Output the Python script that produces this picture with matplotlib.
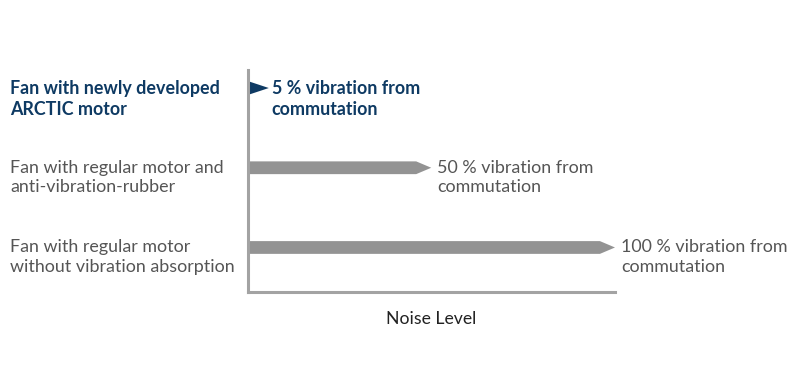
import matplotlib
matplotlib.use("Agg")
import matplotlib.pyplot as plt

plt.rcParams['font.family'] = ['Lato', 'DejaVu Sans']

categories = [
    "Fan with newly developed\nARCTIC motor",
    "Fan with regular motor and\nanti-vibration-rubber",
    "Fan with regular motor\nwithout vibration absorption",
]
values = [5, 50, 100]
value_labels = [
    "5 % vibration from\ncommutation",
    "50 % vibration from\ncommutation",
    "100 % vibration from\ncommutation",
]
highlight = [True, False, False]

navy = "#0e3a63"
bar_gray = "#939393"
text_gray = "#555555"
axis_gray = "#a3a3a3"

fig = plt.figure(figsize=(8, 3.77), dpi=100)
ax = fig.add_axes([247.5 / 800, 1 - 291.5 / 377, (615 - 247.5) / 800, (291.5 - 70) / 377])

ax.set_xlim(0, 100)
ax.set_ylim(2.552, -0.226)

bar_h = 0.16
fs = 12.9
for i, v in enumerate(values):
    col = navy if highlight[i] else bar_gray
    if v < 6:
        # small value: only the arrow head is visible
        ax.arrow(0.3, i, v + 0.5, 0, width=bar_h, head_width=bar_h * 1.05,
                 head_length=v + 0.5, length_includes_head=True, color=col, lw=0)
    else:
        ax.arrow(0, i, v, 0, width=bar_h, head_width=bar_h, head_length=4.1,
                 length_includes_head=True, color=col, lw=0)

    # category label on the left
    ax.annotate(categories[i], xy=(10 / 800, i), xycoords=('figure fraction', 'data'),
                xytext=(0, 8), textcoords='offset pixels', va='top', ha='left',
                fontsize=fs, color=navy if highlight[i] else text_gray,
                fontweight='bold' if highlight[i] else 'normal', linespacing=1.28)

    # value label next to the arrow tip
    ax.annotate(value_labels[i], xy=(v, i), xycoords='data',
                xytext=(6, 8), textcoords='offset pixels', va='top', ha='left',
                fontsize=fs, color=navy if highlight[i] else text_gray,
                fontweight='bold' if highlight[i] else 'normal', linespacing=1.28)

for s in ['top', 'right']:
    ax.spines[s].set_visible(False)
for s in ['left', 'bottom']:
    ax.spines[s].set_color(axis_gray)
    ax.spines[s].set_linewidth(2.2)
ax.set_xticks([])
ax.set_yticks([])
ax.set_xlabel("Noise Level", fontsize=12.7, color="#222222", labelpad=14)

fig.savefig("out.png", dpi=100)
